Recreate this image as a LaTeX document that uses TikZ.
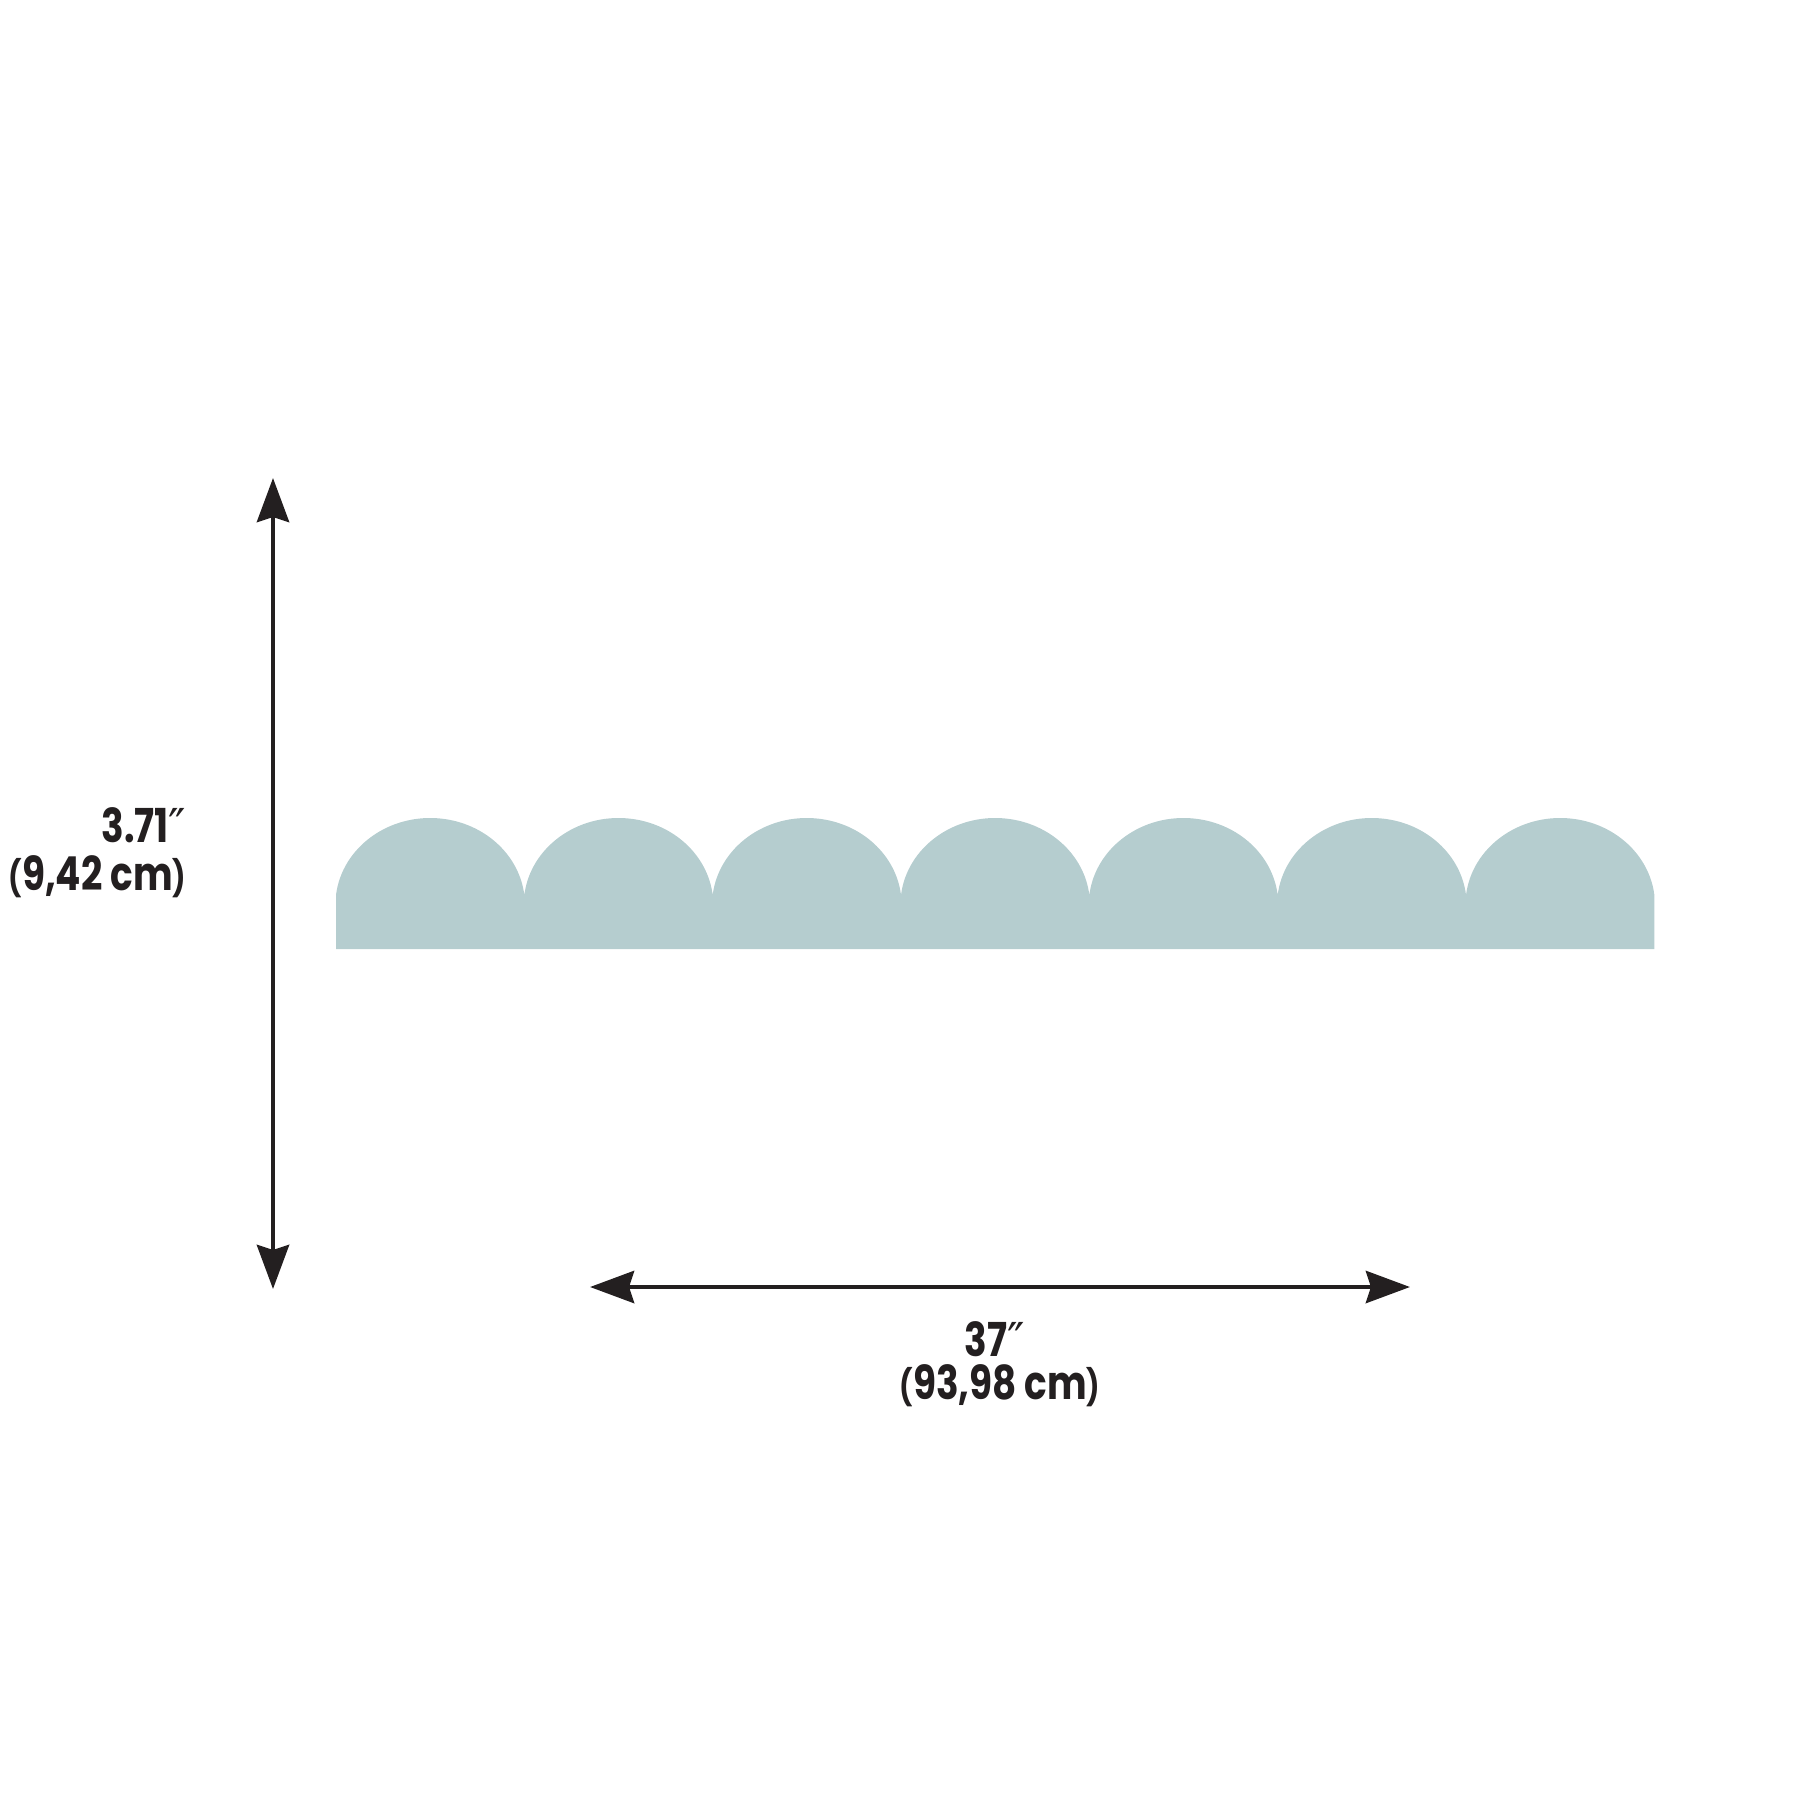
\documentclass[tikz,border=0pt]{standalone}
\usepackage{fontspec}
\usetikzlibrary{arrows.meta}
\newfontfamily\dimfont[FakeStretch=0.8]{Poppins}
\newfontfamily\primefont{DejaVu Sans}
\newcommand{\inch}{{\primefont\mdseries ″}}
\newcommand{\lpar}{{\fontsize{10}{10}\selectfont(}}
\newcommand{\rpar}{{\fontsize{10}{10}\selectfont)}}
\definecolor{scallop}{RGB}{181,205,207}
\definecolor{inkblack}{RGB}{35,31,32}
\tikzset{
  dimtip/.tip={Stealth[length=4.4mm,width=3.2mm,inset=0.5mm]},
  dimarrow/.style={draw=inkblack, line width=1.4pt, dimtip-dimtip},
  dimlabel/.style={font=\dimfont\bfseries\fontsize{13.3}{14}\selectfont, text=inkblack, inner sep=0pt},
}
\begin{document}
\begin{tikzpicture}[x=0.01cm, y=-0.01cm]
    \useasboundingbox (0,0) rectangle (1800,1800);

    % scalloped border strip
    \fill[scallop] (336,949) -- (336,895)
      foreach \i in {1,...,7} {
        arc[start angle=186.6, end angle=353.4, x radius=94.8, y radius=87]
      } -- ++(0,54) -- cycle;

    % height
    \coordinate (vtop) at (273,478);
    \coordinate (vbot) at (273,1289);
    \draw[dimarrow] (vtop) -- (vbot);
    \node[dimlabel, anchor=base east] (height) at (187,842) {3.71\inch};
    \node[dimlabel, anchor=base east] (heightcm) at (187,890) {\lpar 9,42 cm\rpar};

    % width
    \coordinate (hleft) at (590,1287);
    \coordinate (hright) at (1410,1287);
    \draw[dimarrow] (hleft) -- (hright);
    \node[dimlabel, anchor=base] (width) at (995,1356) {37\inch};
    \node[dimlabel, anchor=base] (widthcm) at (1000,1399) {\lpar 93,98 cm\rpar};
\end{tikzpicture}
\end{document}
